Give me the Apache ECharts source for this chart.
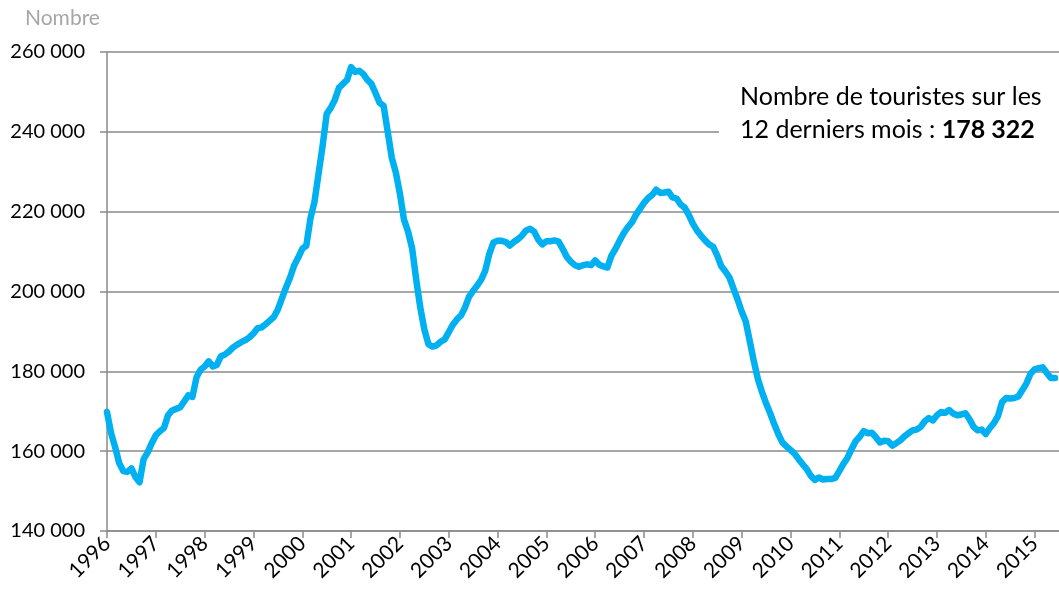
<!DOCTYPE html>
<html>
<head>
<meta charset="utf-8">
<script src="https://cdn.jsdelivr.net/npm/echarts@6/dist/echarts.min.js"></script>
<style>
  html, body { margin: 0; padding: 0; background: #fff; }
  #chart { width: 1059px; height: 592px; }
</style>
</head>
<body>
<div id="chart"></div>
<script>
  // années affichées sur l'axe (une graduation par mois de janvier)
  var years = ['1996', '1997', '1998', '1999', '2000', '2001', '2002', '2003', '2004', '2005',
    '2006', '2007', '2008', '2009', '2010', '2011', '2012', '2013', '2014', '2015']
  var months = ['01', '02', '03', '04', '05', '06', '07', '08', '09', '10', '11', '12']

  // cumul sur 12 mois glissants, en milliers (à partir de janv. 1996)
  var touristes = [
    169.8, 164.5, 161.0, 157.0, 155.0, 154.8, 155.7, 153.5, 152.2, 158.0, 159.7, 162.0,
    164.0, 165.0, 165.8, 169.0, 170.2, 170.6, 171.0, 172.5, 174.0, 173.6, 178.5, 180.4,
    181.2, 182.5, 181.2, 181.6, 183.8, 184.2, 185.0, 186.0, 186.7, 187.3, 187.8, 188.5,
    189.5, 190.8, 191.0, 191.8, 192.7, 193.6, 195.5, 198.3, 201.0, 203.5, 206.5, 208.5,
    210.7, 211.5, 218.3, 222.5, 229.5, 236.5, 244.5, 246.0, 248.0, 251.0, 252.0, 253.0,
    256.2, 255.0, 255.3, 254.5, 253.0, 252.0, 249.7, 247.3, 246.5, 240.0, 233.5, 229.8,
    224.5, 218.0, 215.0, 210.8, 203.0, 196.0, 190.5, 186.8, 186.2, 186.5, 187.4, 188.0,
    189.8, 191.7, 193.0, 194.0, 196.0, 198.7, 200.2, 201.5, 203.0, 205.3, 209.5, 212.3,
    212.7, 212.7, 212.4, 211.5, 212.4, 213.1, 214.0, 215.3, 215.7, 215.0, 213.0, 211.8,
    212.6, 212.6, 212.8, 212.5, 210.7, 208.7, 207.5, 206.6, 206.2, 206.6, 206.8, 206.6,
    207.8, 206.7, 206.3, 206.0, 209.0, 210.7, 212.7, 214.6, 216.1, 217.3, 219.2, 220.7,
    222.2, 223.4, 224.2, 225.5, 224.7, 224.8, 225.0, 223.6, 223.3, 221.8, 221.0, 219.2,
    217.0, 215.3, 214.0, 212.8, 211.8, 211.2, 209.0, 206.3, 205.0, 203.5, 200.7, 198.0,
    195.0, 192.5, 187.5, 182.5, 178.0, 174.8, 172.0, 169.5, 166.8, 164.3, 162.2, 161.2,
    160.3, 159.4, 158.0, 156.7, 155.5, 153.8, 152.8, 153.4, 152.9, 153.0, 153.0, 153.3,
    155.0, 156.8, 158.3, 160.5, 162.5, 163.6, 165.0, 164.5, 164.6, 163.5, 162.2, 162.6,
    162.5, 161.4, 162.0, 162.7, 163.7, 164.5, 165.2, 165.4, 166.1, 167.5, 168.3, 167.7,
    169.0, 169.8, 169.6, 170.3, 169.4, 169.0, 169.2, 169.5, 168.0, 166.1, 165.2, 165.4,
    164.3, 165.8, 167.0, 168.8, 172.3, 173.3, 173.2, 173.3, 173.7, 175.3, 177.0, 179.4,
    180.5, 180.8, 181.0, 179.6, 178.3, 178.322
  ]

  var dernierCumul = '178 322'

  // une catégorie par mois, l'axe va un peu au-delà de la dernière valeur
  var categories = []
  years.forEach(function (y) {
    months.forEach(function (m) {
      categories.push(y + '-' + m)
    })
  })
  categories = categories.slice(0, touristes.length + 1)

  var lineData = touristes.map(function (v) { return Math.round(v * 1000) })

  var font = 'Lato, "Open Sans", sans-serif'
  var gridColor = '#8a8a8a'

  function formatNombre (v) {
    return String(v).replace(/\B(?=(\d{3})+(?!\d))/g, ' ')
  }

  function isJanvier (index) {
    return index % 12 === 0
  }

  var chart = echarts.init(document.getElementById('chart'))
  chart.setOption({
    animation: false,
    backgroundColor: '#fff',
    grid: {
      left: 107,
      right: 0,
      top: 52,
      bottom: 61,
      containLabel: false
    },
    xAxis: {
      type: 'category',
      data: categories,
      boundaryGap: false,
      axisLine: { show: true, lineStyle: { color: gridColor, width: 1.5 } },
      axisTick: {
        show: true,
        length: 7,
        interval: function (index) { return isJanvier(index) },
        lineStyle: { color: gridColor, width: 1.5 }
      },
      axisLabel: {
        interval: function (index) { return isJanvier(index) },
        formatter: function (value) { return value.slice(0, 4) },
        rotate: 45,
        margin: 9,
        color: '#000',
        fontFamily: font,
        fontSize: 21
      },
      splitLine: { show: false }
    },
    yAxis: {
      type: 'value',
      min: 140000,
      max: 260000,
      interval: 20000,
      axisLine: { show: true, lineStyle: { color: gridColor, width: 1.5 } },
      axisTick: { show: true, length: 7, lineStyle: { color: gridColor, width: 1.5 } },
      axisLabel: {
        formatter: formatNombre,
        margin: 22,
        color: '#000',
        fontFamily: font,
        fontSize: 20
      },
      splitLine: { show: true, lineStyle: { color: gridColor, width: 1.5 } }
    },
    graphic: [
      {
        type: 'text',
        left: 25,
        top: 8,
        style: {
          text: 'Nombre',
          fill: '#a6a6a6',
          font: '21px ' + font
        }
      },
      {
        // cache la grille derrière l'encadré
        type: 'rect',
        shape: { x: 719, y: 76, width: 340, height: 78 },
        style: { fill: '#fff' },
        z: 10
      },
      {
        type: 'text',
        left: 740,
        top: 80,
        z: 11,
        style: {
          text: 'Nombre de touristes sur les\n12 derniers mois : {b|' + dernierCumul + '}',
          fill: '#000',
          font: '25px ' + font,
          lineHeight: 33,
          rich: {
            b: { fontWeight: 'bold', fontSize: 25, fontFamily: font, fill: '#000', lineHeight: 33 }
          }
        }
      }
    ],
    series: [{
      name: 'Touristes',
      type: 'line',
      data: lineData,
      symbol: 'none',
      smooth: false,
      lineStyle: {
        color: '#00b0f0',
        width: 6.5,
        cap: 'round',
        join: 'round'
      }
    }]
  })
</script>
</body>
</html>
